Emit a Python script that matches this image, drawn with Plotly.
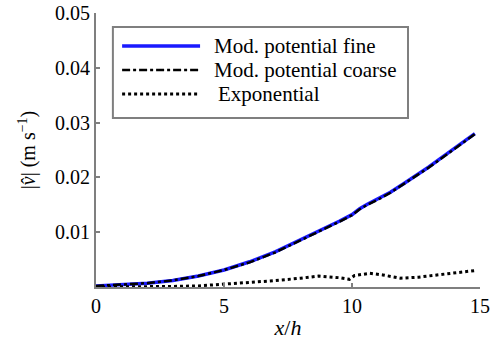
import plotly.graph_objects as go

# Streamwise position x/h and velocity amplitude |v̂| (m/s)
x_fine = [0, 1, 2, 3, 4, 5, 6, 7, 7.5, 8, 8.5, 9, 9.5, 10, 10.3, 10.6, 11, 11.5,
          12, 12.5, 13, 13.5, 14, 14.5, 14.8]
v_fine = [0.0002, 0.0004, 0.0007, 0.0012, 0.0020, 0.0031, 0.0046, 0.0064, 0.0075,
          0.0086, 0.0098, 0.0109, 0.0120, 0.0132, 0.0143, 0.0151, 0.0160, 0.0173,
          0.0188, 0.0203, 0.0219, 0.0236, 0.0253, 0.0269, 0.0280]

x_coarse = [0, 1, 2, 3, 4, 5, 6, 7, 7.5, 8, 8.5, 9, 9.5, 10, 10.3, 10.6, 11, 11.5,
            12, 12.5, 13, 13.5, 14, 14.5, 14.8]
v_coarse = [0.0002, 0.0004, 0.0007, 0.0012, 0.0020, 0.0031, 0.0045, 0.0063, 0.0074,
            0.0085, 0.0097, 0.0108, 0.0119, 0.0131, 0.0142, 0.0150, 0.0159, 0.0172,
            0.0187, 0.0202, 0.0218, 0.0235, 0.0252, 0.0268, 0.0279]

x_exp = [0, 1, 2, 3, 4, 5, 6, 6.8, 8, 8.7, 9.5, 9.9, 10.1, 10.7, 11.2, 11.9, 12.6,
         13.6, 14.6, 14.8]
v_exp = [0.0000, 0.0000, 0.0001, 0.0001, 0.0002, 0.0005, 0.0008, 0.0011, 0.0016,
         0.0020, 0.0017, 0.0014, 0.0021, 0.0025, 0.0022, 0.0016, 0.0018, 0.0024,
         0.0029, 0.0030]

names = ["Mod. potential fine", "Mod. potential coarse", "Exponential"]
x_ticks = [0, 5, 10, 15]
y_ticks = [0.01, 0.02, 0.03, 0.04, 0.05]

FONT = "Liberation Serif"
AXIS_GREY = "#7f7f7f"

styles = [
    dict(color="#1a1aff", width=3.5, dash="solid"),
    dict(color="black", width=2.5, dash="8px,3px,3px,3px"),
    dict(color="black", width=3, dash="3px,3px"),
]

fig = go.Figure()
for xs, ys, name, st in zip([x_fine, x_coarse, x_exp], [v_fine, v_coarse, v_exp],
                            names, styles):
    fig.add_trace(go.Scatter(x=xs, y=ys, mode="lines", name=name,
                             line=dict(color=st["color"], width=st["width"],
                                       dash=st["dash"]),
                             showlegend=False))

# Boxed key in the upper-left corner of the axes
fig.add_shape(type="rect", xref="paper", yref="paper",
              x0=0.044, x1=0.8125, y0=0.617, y1=0.949,
              line=dict(color=AXIS_GREY, width=2), fillcolor="white", layer="above")
rows_y = [0.880, 0.792, 0.704]
text_x = [0.302, 0.302, 0.312]
for yy, tx, name, st in zip(rows_y, text_x, names, styles):
    fig.add_shape(type="line", xref="paper", yref="paper",
                  x0=0.068, x1=0.271, y0=yy, y1=yy, layer="above",
                  line=dict(color=st["color"], width=st["width"], dash=st["dash"]))
    fig.add_annotation(xref="paper", yref="paper", x=tx, y=yy, text=name,
                       showarrow=False, xanchor="left", yanchor="middle",
                       font=dict(family=FONT, size=21, color="black"))

fig.update_xaxes(range=[0, 15], tickvals=x_ticks, ticks="inside", ticklen=4,
                 tickcolor=AXIS_GREY, tickwidth=1.5, showline=True,
                 linecolor=AXIS_GREY, linewidth=2, showgrid=False, zeroline=False,
                 automargin=False,
                 tickfont=dict(family=FONT, size=20, color="black"),
                 title=dict(text="<i>x</i>/<i>h</i>", standoff=4,
                            font=dict(family=FONT, size=22, color="black")))
fig.update_yaxes(range=[0, 0.05], tickvals=y_ticks, ticks="inside", ticklen=4,
                 tickcolor=AXIS_GREY, tickwidth=1.5, showline=True,
                 linecolor=AXIS_GREY, linewidth=2, showgrid=False, zeroline=False,
                 automargin=False,
                 tickfont=dict(family=FONT, size=20, color="black"),
                 title=dict(text="|<i>v̂</i>| (m s<sup>−1</sup>)", standoff=14,
                            font=dict(family=FONT, size=20, color="black")))

fig.update_layout(width=491, height=348, plot_bgcolor="white", paper_bgcolor="white",
                  font=dict(family=FONT),
                  margin=dict(l=96, r=11, t=13, b=61), showlegend=False)

fig.write_html("out.html")
